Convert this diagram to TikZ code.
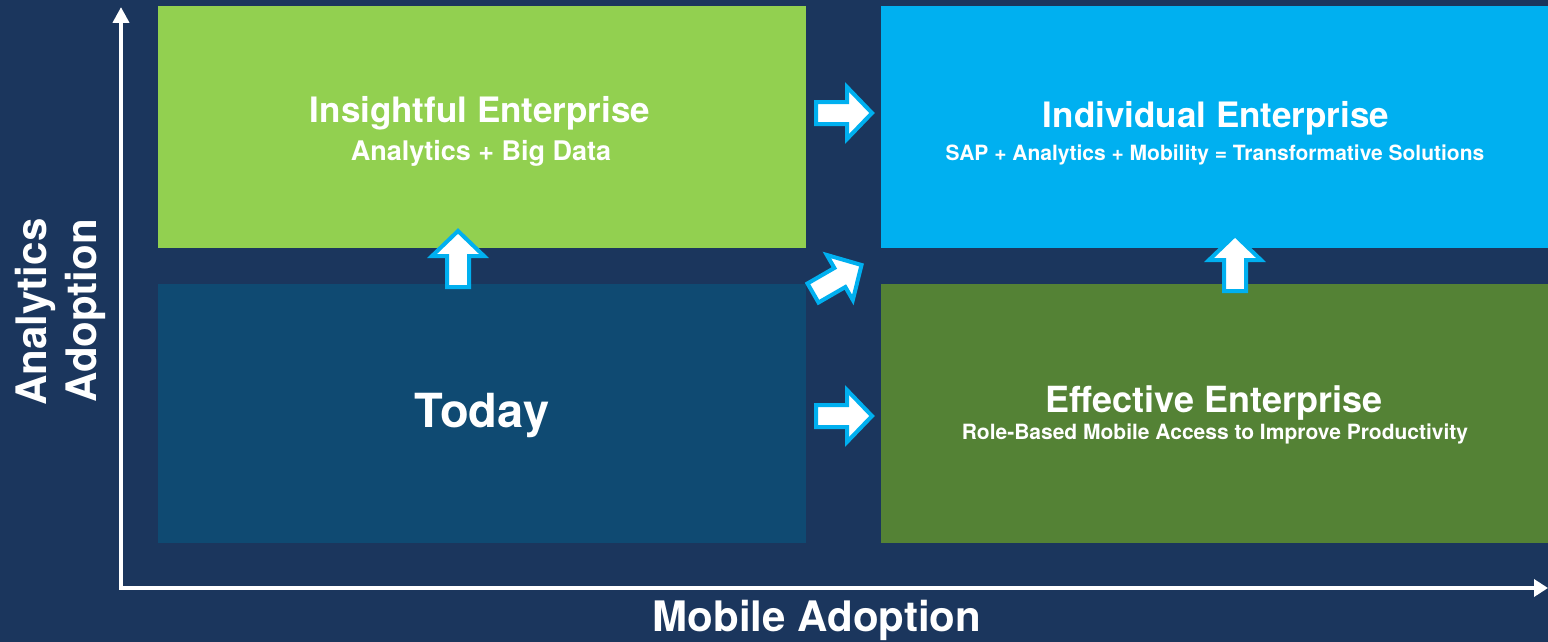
\documentclass[tikz,border=0pt]{standalone}
\usepackage{fontspec}
\setmainfont{TeX Gyre Heros}
\usetikzlibrary{arrows.meta, positioning}

\definecolor{navy}{HTML}{1B365D}
\definecolor{limegreen}{HTML}{92D050}
\definecolor{skyblue}{HTML}{00B0F0}
\definecolor{deepblue}{HTML}{0F4A72}
\definecolor{leafgreen}{HTML}{548235}
\definecolor{arrowblue}{HTML}{00B0F0}

\tikzset{
    quad/.style={rectangle, inner sep=0pt, outer sep=0pt, anchor=north west},
    title/.style={text=white, anchor=base, inner sep=0pt, font=\bfseries\fontsize{35}{40}\selectfont},
    subtitle/.style={text=white, anchor=base, inner sep=0pt, font=\bfseries\fontsize{#1}{#1}\selectfont},
    axislabel/.style={text=white, anchor=base, inner sep=0pt, font=\bfseries\fontsize{42}{44}\selectfont},
    blockarrow/.pic={
        \draw[line width=4pt, draw=arrowblue, fill=white, line join=miter]
            (0,-11) -- (31,-11) -- (31,-26) -- (56,0) -- (31,26) -- (31,11) -- (0,11) -- cycle;
    }
}

\begin{document}
\begin{tikzpicture}[x=1pt, y=-1pt]
    \fill[navy] (0,0) rectangle (1548,642);
    \useasboundingbox (0,0) rectangle (1548,642);

    % the four quadrants
    \node[quad, fill=limegreen, minimum width=648pt, minimum height=242pt] (insight) at (158,6) {};
    \node[quad, fill=skyblue, minimum width=667pt, minimum height=242pt] (individual) at (881,6) {};
    \node[quad, fill=deepblue, minimum width=648pt, minimum height=259pt] (today) at (158,284) {};
    \node[quad, fill=leafgreen, minimum width=667pt, minimum height=259pt] (effective) at (881,284) {};

    \node[title] (insightT) at (480,122) {Insightful Enterprise};
    \node[subtitle=27] (insightS) at (481,160) {Analytics + Big Data};

    \node[title] (individualT) at (1216,127) {Individual Enterprise};
    \node[subtitle=21] (individualS) at (1215,160) {SAP + Analytics + Mobility = Transformative Solutions};

    \node[title, font=\bfseries\fontsize{47}{50}\selectfont] (todayT) at (482,427) {Today};

    \node[title, font=\bfseries\fontsize{36}{40}\selectfont] (effectiveT) at (1214,412) {Effective Enterprise};
    \node[subtitle=21] (effectiveS) at (1215,439) {Role-Based Mobile Access to Improve Productivity};

    % axes
    \coordinate (origin) at (121,588);
    \coordinate (ytop) at (121,7);
    \coordinate (xend) at (1548,588);
    \draw[white, line width=4pt, line join=miter, {Triangle[length=16pt, width=16pt]}-{Triangle[length=14pt, width=17pt]}]
        (ytop) -- (origin) -- (xend);

    \node[axislabel] (mobile) at (817,631) {Mobile Adoption};
    \node[axislabel, rotate=90] (analytics) at (46,312) {Analytics};
    \node[axislabel, rotate=90] (adoption) at (96,311) {Adoption};

    % moves between quadrants
    \pic at (816,113) {blockarrow};
    \pic at (816,416) {blockarrow};
    \pic[rotate=90] at (458,287) {blockarrow};
    \pic[rotate=90] at (1235,291) {blockarrow};
    \pic[rotate=30] at (813,293) {blockarrow};
\end{tikzpicture}
\end{document}
